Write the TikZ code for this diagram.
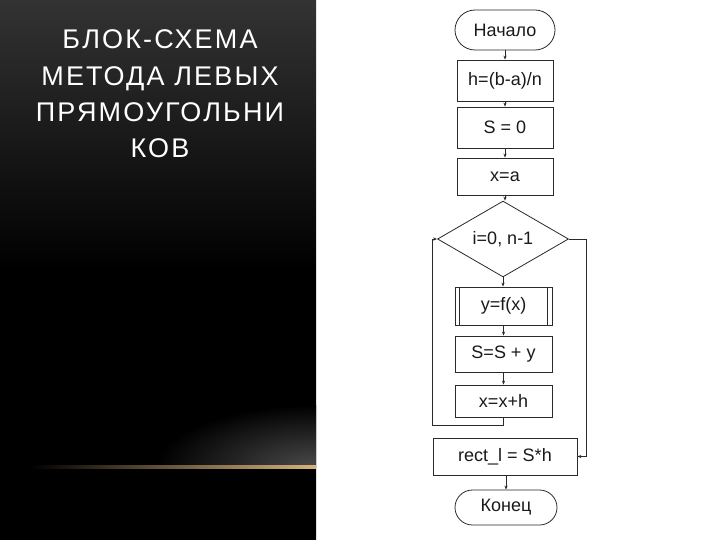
\documentclass[tikz,border=0pt]{standalone}
\usepackage{fontspec}
\setmainfont{Liberation Sans}
\newfontfamily\titlefont[LetterSpace=8]{Liberation Sans}
\usetikzlibrary{shapes.geometric,arrows.meta}
\definecolor{lc}{HTML}{2A2A2A}
\definecolor{tc}{HTML}{1A1A1A}
\definecolor{glowc}{HTML}{4A4A4A}
\definecolor{linemid}{HTML}{7A5A28}
\definecolor{lineend}{HTML}{D6B27A}
\tikzset{
  fc/.style={draw=lc, line width=0.8pt, inner sep=0pt, text=tc, font=\fontsize{18}{20}\selectfont},
  term/.style={fc, minimum width=100pt, minimum height=40pt, rounded corners=20pt},
  procbox/.style={fc, minimum width=96pt},
  predef/.style={fc, minimum width=97pt, path picture={
      \draw[lc, line width=0.8pt] ([xshift=4pt]path picture bounding box.north west) -- ([xshift=4pt]path picture bounding box.south west);
      \draw[lc, line width=0.8pt] ([xshift=-5pt]path picture bounding box.north east) -- ([xshift=-5pt]path picture bounding box.south east);}},
  decis/.style={fc, diamond, minimum width=131pt, minimum height=68pt},
  conn/.style={draw=lc, line width=0.8pt, -{Stealth[length=4pt,width=3.2pt]}},
  titletext/.style={text=white, inner sep=0pt, anchor=base, font=\titlefont\fontsize{27}{30}\selectfont}
}
\begin{document}
\begin{tikzpicture}[x=1pt,y=-1pt]
\useasboundingbox (0,0) rectangle (720,540);
\fill[white] (0,0) rectangle (720,540);
% dark panel
\shade[top color=black!80, bottom color=black, middle color=black] (0,0) rectangle (316,540);
\begin{scope}
  \clip (0,380) rectangle (316,467);
  \shade[inner color=glowc, outer color=black] (316,467) ellipse (160 and 62);
\end{scope}
\shade[left color=black, middle color=linemid, right color=lineend] (30,465.5) rectangle (316,468.5);
% title
\node[titletext] (t1) at (160,49) {БЛОК-СХЕМА};
\node[titletext] (t2) at (160,86) {МЕТОДА ЛЕВЫХ};
\node[titletext] (t3) at (160,122) {ПРЯМОУГОЛЬНИ};
\node[titletext] (t4) at (160,158) {КОВ};
% flowchart
\node[term] (start) at (505,30) {Начало};
\node[procbox, minimum height=41pt] (hbox) at (505,80.5) {h=(b-a)/n};
\node[procbox, minimum height=41pt] (sbox) at (505,127.5) {S = 0};
\node[procbox, minimum height=37pt] (xbox) at (505,176.5) {x=a};
\node[decis] (dia) at (503,239) {i=0, n-1};
\node[predef, minimum height=38pt] (fbox) at (503.5,306) {y=f(x)};
\node[procbox, minimum width=97pt, minimum height=36pt] (ssbox) at (503.5,354) {S=S + y};
\node[procbox, minimum width=97pt, minimum height=32pt] (xxbox) at (503.5,401) {x=x+h};
\node[procbox, minimum width=144pt, minimum height=37pt] (rbox) at (505,456.5) {rect\_l = S*h};
\node[term, minimum width=102pt, minimum height=35pt, rounded corners=17.5pt] (end) at (506,507.5) {Конец};
\coordinate (lb) at (432,425);
\coordinate (rb) at (586,456.5);
\draw[conn] (start.south) -- (start.south |- hbox.north);
\draw[conn] (hbox.south) -- (hbox.south |- sbox.north);
\draw[conn] (sbox.south) -- (sbox.south |- xbox.north);
\draw[conn] (xbox.south) -- (xbox.south |- dia.north);
\draw[conn] (dia.south) -- (dia.south |- fbox.north);
\draw[conn] (fbox.south) -- (ssbox.north);
\draw[conn] (ssbox.south) -- (xxbox.north);
\draw[conn] (xxbox.south) |- (lb) |- (dia.west);
\draw[conn] (dia.east) -| (rb) -- (rbox.east);
\draw[conn] (rbox.south -| end.north) -- (end.north);
\end{tikzpicture}
\end{document}
